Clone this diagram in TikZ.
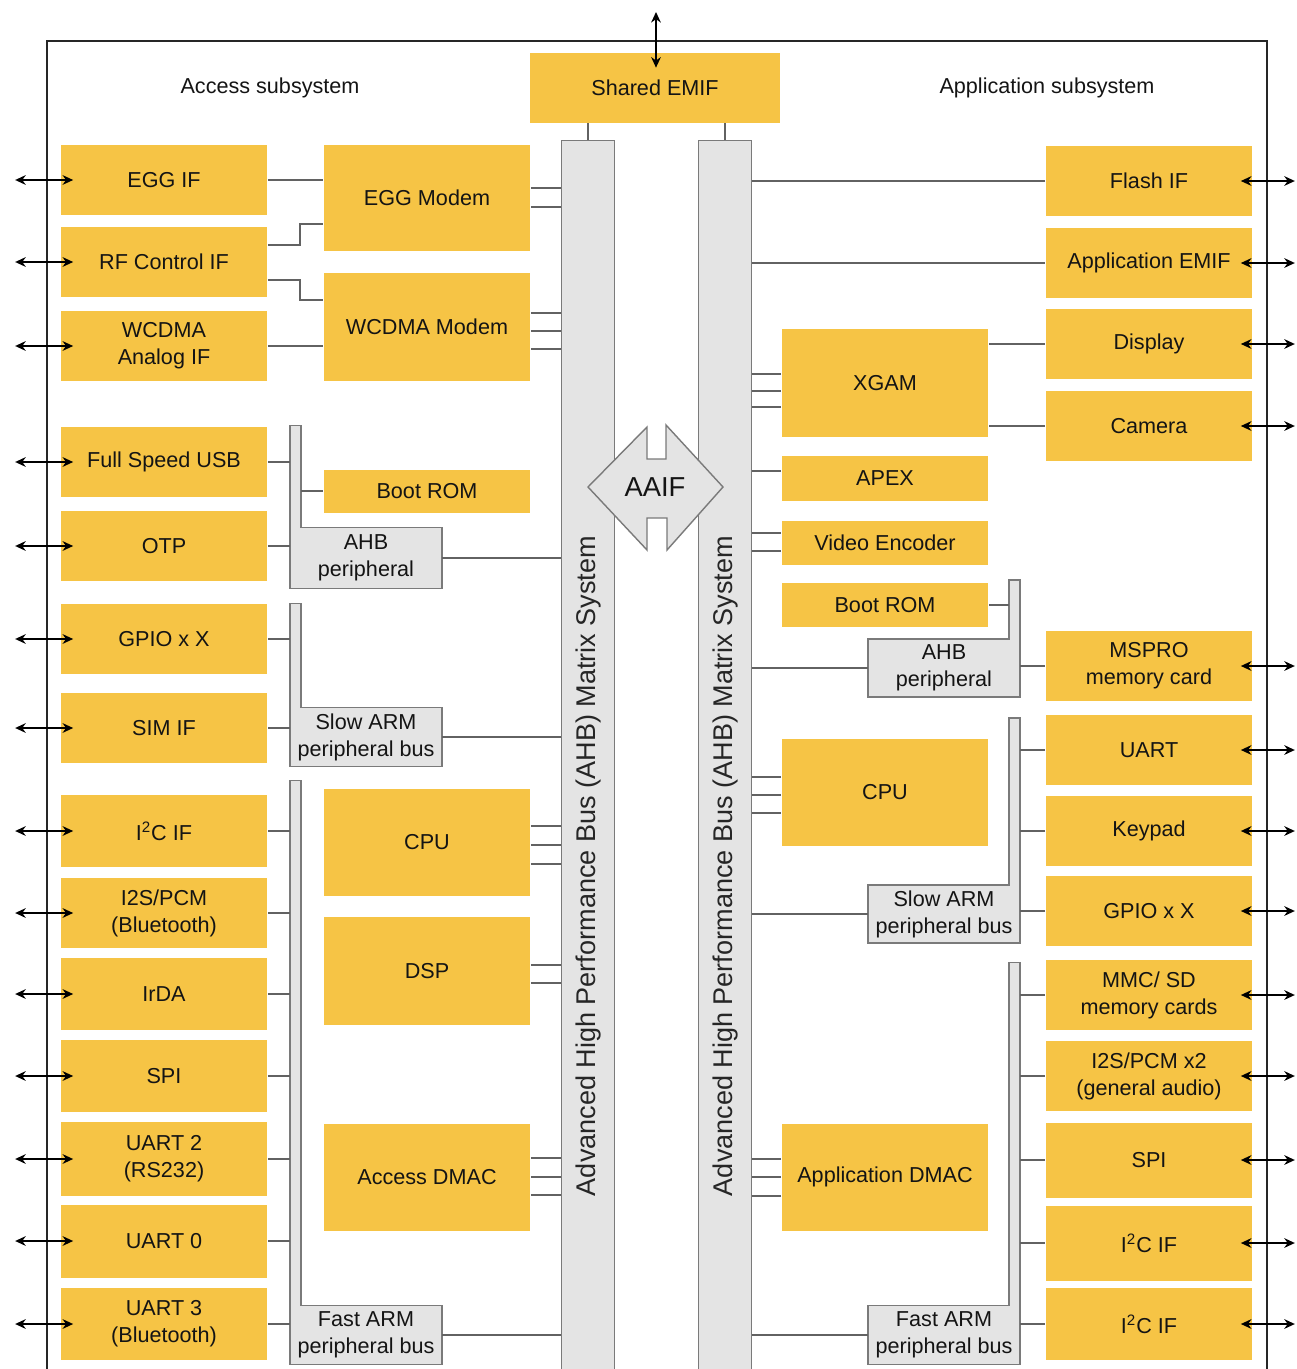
\documentclass[tikz,border=0pt]{standalone}
\usepackage{fontspec}
\setmainfont{Liberation Sans}
\usepackage{xcolor}
\usepackage{tikz}
\usetikzlibrary{arrows.meta, positioning, calc, backgrounds}

\definecolor{amber}{HTML}{F6C445}
\definecolor{busgray}{HTML}{E4E4E4}
\definecolor{edgegray}{HTML}{7A7A7A}
\definecolor{wiregray}{HTML}{626262}

\begin{document}
\begin{tikzpicture}[
    x=0.02cm, y=-0.02cm,
    font=\fontsize{12.3}{15.3}\selectfont,
    text=black!92,
    blk/.style={rectangle, fill=amber, inner sep=1pt, minimum width=4.14cm,
                minimum height=#1, align=center},
    blk/.default=1.4cm,
    gbox/.style={rectangle, inner sep=1pt, minimum width=3.03cm,
                 minimum height=#1, align=center},
    gbox/.default=1.14cm,
    gfill/.style={fill=busgray, draw=edgegray, line width=0.8pt},
    busbar/.style={rectangle, fill=busgray, draw=edgegray, line width=0.8pt,
                   minimum width=1.06cm, minimum height=24.7cm},
    bustxt/.style={rotate=90, font=\fontsize{15.4}{18}\selectfont, text=black!85},
    wire/.style={draw=wiregray, line width=1.3pt},
    io/.style={{Stealth[length=6pt,width=5.5pt]}-{Stealth[length=6pt,width=5.5pt]},
               line width=1.1pt, black},
    frame/.style={draw=black!85, line width=1.2pt}
  ]
  \useasboundingbox (0,0) rectangle (1296,1369);

  % outer frame
  \draw[frame] (47,1380) -- (47,41) -- (1267,41) -- (1267,1380);

  % headings and shared memory interface
  \node (acc) at (270,88) {Access subsystem};
  \node (app) at (1047,88) {Application subsystem};
  \node[blk=1.4cm, minimum width=5cm] (semif) at (655,88) {Shared EMIF};

  % the two AHB matrices
  \node[busbar] (busL) at (588,758) {};
  \node[busbar] (busR) at (725,758) {};
  \node[bustxt] (busLtxt) at (588,866) {Advanced High Performance Bus (AHB) Matrix System};
  \node[bustxt] (busRtxt) at (725,866) {Advanced High Performance Bus (AHB) Matrix System};

  % AAIF bridge
  \coordinate (aaifc) at (655,487);
  \draw[gfill] (aaifc) ++(-67,0) -- ++(59,-60) -- ++(0,32) -- ++(19,0) -- ++(0,-34)
    -- ++(57,62) -- ++(-56,63) -- ++(0,-32) -- ++(-20,0) -- ++(0,32) -- cycle;
  \node[font=\fontsize{15.6}{18}\selectfont] (aaif) at (aaifc) {AAIF};

  % access subsystem: interfaces
  \node[blk] (egg)   at (164,180)  {EGG IF};
  \node[blk] (rfc)   at (164,262)  {RF Control IF};
  \node[blk] (wan)   at (164,346)  {WCDMA\\Analog IF};
  \node[blk] (usb)   at (164,462)  {Full Speed USB};
  \node[blk] (otp)   at (164,546)  {OTP};
  \node[blk] (gpioA) at (164,639)  {GPIO x X};
  \node[blk] (sim)   at (164,728)  {SIM IF};
  \node[blk=1.44cm] (i2cA)  at (164,831)  {I\textsuperscript{2}C IF};
  \node[blk] (i2sA)  at (164,913)  {I2S/PCM\\(Bluetooth)};
  \node[blk=1.44cm] (irda)  at (164,994)  {IrDA};
  \node[blk=1.44cm] (spiA)  at (164,1076) {SPI};
  \node[blk=1.48cm] (uart2) at (164,1159) {UART 2\\(RS232)};
  \node[blk=1.46cm] (uart0) at (164,1241) {UART 0};
  \node[blk=1.44cm] (uart3) at (164,1324) {UART 3\\(Bluetooth)};

  % access subsystem: masters and memories
  \node[blk=2.14cm] (eggm)  at (427,198)  {EGG Modem};
  \node[blk=2.16cm] (wcm)   at (427,327)  {WCDMA Modem};
  \node[blk=0.86cm] (brA)   at (427,491)  {Boot ROM};
  \node[blk=2.14cm] (cpuA)  at (427,842)  {CPU};
  \node[blk=2.16cm] (dsp)   at (427,971)  {DSP};
  \node[blk=2.14cm] (dmacA) at (427,1177) {Access DMAC};

  % access subsystem: peripheral buses
  \node[gbox=1.2cm]  (ahbA)  at (366,558)  {AHB\\peripheral};
  \node[gbox=1.16cm] (slowA) at (366,737)  {Slow ARM\\peripheral bus};
  \node[gbox=1.16cm] (fastA) at (366,1335) {Fast ARM\\peripheral bus};

  % application subsystem: interfaces
  \node[blk] (flash) at (1149,181)  {Flash IF};
  \node[blk] (aemif) at (1149,263)  {Application EMIF};
  \node[blk] (disp)  at (1149,344)  {Display};
  \node[blk] (cam)   at (1149,426)  {Camera};
  \node[blk] (mspro) at (1149,666)  {MSPRO\\memory card};
  \node[blk] (uart)  at (1149,750)  {UART};
  \node[blk] (keyp)  at (1149,831)  {Keypad};
  \node[blk] (gpioB) at (1149,911)  {GPIO x X};
  \node[blk] (mmc)   at (1149,995)  {MMC/ SD\\memory cards};
  \node[blk] (i2sB)  at (1149,1076) {I2S/PCM x2\\(general audio)};
  \node[blk=1.5cm]  (spiB) at (1149,1160) {SPI};
  \node[blk=1.5cm]  (i2cB) at (1149,1243) {I\textsuperscript{2}C IF};
  \node[blk=1.44cm] (i2cC) at (1149,1324) {I\textsuperscript{2}C IF};

  % application subsystem: masters and memories
  \node[blk=2.18cm] (xgam)  at (885,383)  {XGAM};
  \node[blk=0.9cm]  (apex)  at (885,478)  {APEX};
  \node[blk=0.88cm] (venc)  at (885,543)  {Video Encoder};
  \node[blk=0.88cm] (brB)   at (885,605)  {Boot ROM};
  \node[blk=2.14cm] (cpuB)  at (885,792)  {CPU};
  \node[blk=2.14cm] (dmacB) at (885,1177) {Application DMAC};

  % application subsystem: peripheral buses
  \node[gbox] (ahbB)  at (944,668)  {AHB\\peripheral};
  \node[gbox] (slowB) at (944,914)  {Slow ARM\\peripheral bus};
  \node[gbox=1.16cm] (fastB) at (944,1335) {Fast ARM\\peripheral bus};

  % L-shaped bus outlines
  \begin{scope}[on background layer]
    \draw[gfill] (ahbA.north east) -- (ahbA.south east) -- (ahbA.south west)
      -- ++(0,-163) -- ++(11,0) -- ($(ahbA.north west)+(11,0)$) -- cycle;
    \draw[gfill] (slowA.north east) -- (slowA.south east) -- (slowA.south west)
      -- ++(0,-163) -- ++(11,0) -- ($(slowA.north west)+(11,0)$) -- cycle;
    \draw[gfill] (fastA.north east) -- (fastA.south east) -- (fastA.south west)
      -- ++(0,-584) -- ++(11,0) -- ($(fastA.north west)+(11,0)$) -- cycle;
    \draw[gfill] (ahbB.north west) -- (ahbB.south west) -- (ahbB.south east)
      -- ++(0,-117) -- ++(-11,0) -- ($(ahbB.north east)+(-11,0)$) -- cycle;
    \draw[gfill] (slowB.north west) -- (slowB.south west) -- (slowB.south east)
      -- ++(0,-225) -- ++(-11,0) -- ($(slowB.north east)+(-11,0)$) -- cycle;
    \draw[gfill] (fastB.north west) -- (fastB.south west) -- (fastB.south east)
      -- ++(0,-402) -- ++(-11,0) -- ($(fastB.north east)+(-11,0)$) -- cycle;
  \end{scope}
  \coordinate (ahbAbar) at ($(ahbA.north west)+(11,0)$);
  \coordinate (ahbBbar) at ($(ahbB.north east)+(-11,0)$);

  % shared EMIF
  \draw[wire] (busL.north) -- (busL.north |- semif.south);
  \draw[wire] (busR.north) -- (busR.north |- semif.south);
  \coordinate (pin) at (656,12);
  \draw[io] (pin) -- ($(semif.north)+(1,15)$);

  % access side wiring
  \draw[wire] (egg.east) -- (egg.east -| eggm.west);
  \draw[wire] ($(rfc.east)+(0,-17)$) -- ++(32,0) |- ($(eggm.west)+(0,26)$);
  \draw[wire] ($(rfc.east)+(0,18)$) -- ++(32,0) |- ($(wcm.west)+(0,-27)$);
  \draw[wire] (wan.east) -- (wan.east -| wcm.west);
  \foreach \n in {usb,otp}
    \draw[wire] (\n.east) -- (\n.east -| ahbA.west);
  \draw[wire] (brA.west) -- (brA.west -| ahbAbar);
  \foreach \n in {gpioA,sim}
    \draw[wire] (\n.east) -- (\n.east -| slowA.west);
  \foreach \n in {i2cA,i2sA,irda,spiA,uart2,uart0,uart3}
    \draw[wire] (\n.east) -- (\n.east -| fastA.west);
  \foreach \n/\d in {eggm/-10, eggm/9, wcm/-14, wcm/4, wcm/22,
                     cpuA/-16, cpuA/3, cpuA/22, dsp/-6, dsp/12,
                     dmacA/-19, dmacA/0, dmacA/18}
    \draw[wire] ($(\n.east)+(0,\d)$) -- ($(\n.east -| busL.west)+(0,\d)$);
  \foreach \n in {ahbA,slowA,fastA}
    \draw[wire] (\n.east) -- (\n.east -| busL.west);

  % application side wiring
  \foreach \n in {flash,aemif}
    \draw[wire] (\n.west) -- (\n.west -| busR.east);
  \foreach \n in {disp,cam}
    \draw[wire] (\n.west) -- (\n.west -| xgam.east);
  \foreach \n/\d in {xgam/-9, xgam/8, xgam/24, apex/-7, venc/-10, venc/8,
                     cpuB/-15, cpuB/3, cpuB/21, dmacB/-18, dmacB/0, dmacB/19}
    \draw[wire] ($(\n.west)+(0,\d)$) -- ($(\n.west -| busR.east)+(0,\d)$);
  \foreach \n in {ahbB,slowB,fastB}
    \draw[wire] (\n.west) -- (\n.west -| busR.east);
  \draw[wire] (brB.east) -- (brB.east -| ahbBbar);
  \draw[wire] (mspro.west) -- (mspro.west -| ahbB.east);
  \foreach \n in {uart,keyp,gpioB}
    \draw[wire] (\n.west) -- (\n.west -| slowB.east);
  \foreach \n in {mmc,i2sB,spiB,i2cB,i2cC}
    \draw[wire] (\n.west) -- (\n.west -| fastB.east);

  % off-chip pins
  \foreach \n in {egg,rfc,wan,usb,otp,gpioA,sim,i2cA,i2sA,irda,spiA,uart2,uart0,uart3}
    \draw[io] ($(\n.west)+(-45,0)$) -- ($(\n.west)+(13,0)$);
  \foreach \n in {flash,aemif,disp,cam,mspro,uart,keyp,gpioB,mmc,i2sB,spiB,i2cB,i2cC}
    \draw[io] ($(\n.east)+(-12,0)$) -- ($(\n.east)+(42,0)$);

\end{tikzpicture}
\end{document}
